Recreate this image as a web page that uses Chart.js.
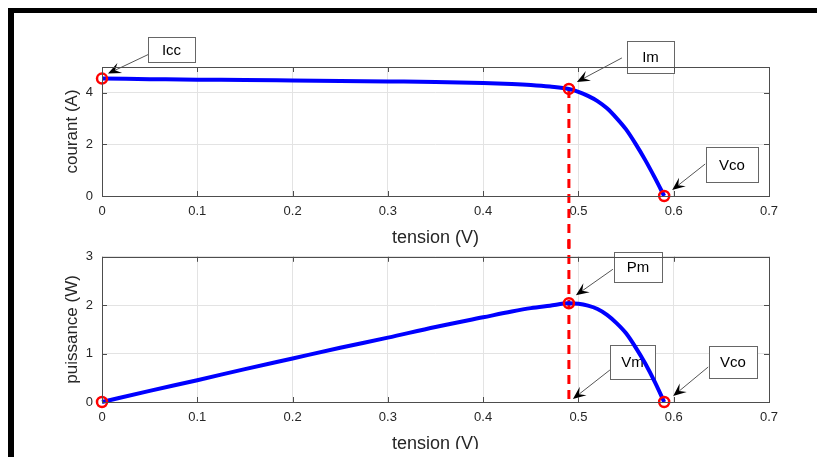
<!DOCTYPE html>
<html>
<head>
<meta charset="utf-8">
<script src="https://cdn.jsdelivr.net/npm/chart.js@4"></script>
<style>
  body { margin: 0; background: #fff; }
  #page { position: relative; width: 817px; height: 457px; overflow: hidden; background: #fff; }
  #zone { position: absolute; left: 0; top: 0; width: 817px; height: 449px; overflow: hidden; }
  #cadre { position: absolute; left: 8px; top: 8px; right: 0; bottom: -10px;
           border-left: 6px solid #000; border-top: 5px solid #000; }
  canvas { position: absolute; left: 0; }
  #haut { top: 0; }
  #bas { top: 240px; }
</style>
</head>
<body>
<div id="page">
  <div id="zone">
    <canvas id="haut" width="817" height="250"></canvas>
    <canvas id="bas" width="817" height="250"></canvas>
  </div>
  <div id="cadre"></div>
</div>
<script>
// courbes I(V) et P(V)
const tensionV   = [0, 0.05, 0.10, 0.15, 0.20, 0.25, 0.30, 0.35, 0.40, 0.43, 0.45, 0.47, 0.49, 0.50, 0.51, 0.52, 0.53, 0.54, 0.55, 0.56, 0.57, 0.58, 0.59];
const courantI   = [4.55, 4.53, 4.51, 4.50, 4.48, 4.46, 4.44, 4.42, 4.38, 4.34, 4.30, 4.24, 4.15, 4.04, 3.88, 3.68, 3.40, 3.02, 2.58, 2.02, 1.40, 0.72, 0];
const puissanceP = [0, 0.23, 0.45, 0.68, 0.90, 1.12, 1.33, 1.55, 1.75, 1.87, 1.94, 1.99, 2.04, 2.03, 1.99, 1.92, 1.80, 1.63, 1.42, 1.13, 0.80, 0.42, 0];

// points remarquables
const pointsV = [0, 0.49, 0.59];
const pointsI = [4.55, 4.15, 0];
const pointsP = [0, 2.04, 0];
const Vm = 0.49;

const xTicks = [0, 0.1, 0.2, 0.3, 0.4, 0.5, 0.6, 0.7];
const yTicksI = [0, 2, 4];
const yTicksP = [0, 1, 2, 3];

const police = "'Liberation Sans', Arial, sans-serif";

function pts(xs, ys) {
  return xs.map((x, i) => ({ x: x, y: ys[i] }));
}

// cadre, petites graduations internes, trait pointillé et étiquettes
const decor = {
  id: 'decor',
  beforeDatasetsDraw(chart, args, opts) {
    const ctx = chart.ctx;
    const sx = chart.scales.x, sy = chart.scales.y;
    ctx.save();
    // trait vertical rouge
    const xv = sx.getPixelForValue(Vm);
    const y1 = opts.ligne[0] === 'haut' ? 0 : sy.getPixelForValue(opts.ligne[0]);
    const y2 = opts.ligne[1] === 'bas' ? chart.height : sy.getPixelForValue(opts.ligne[1]);
    ctx.strokeStyle = '#ff0000';
    ctx.lineWidth = 3;
    ctx.setLineDash([9, 6]);
    ctx.beginPath();
    ctx.moveTo(xv, y1);
    ctx.lineTo(xv, y2);
    ctx.stroke();
    ctx.setLineDash([]);

    // étiquettes avec flèches
    opts.notes.forEach(n => {
      const px = sx.getPixelForValue(n.x), py = sy.getPixelForValue(n.y);
      const bx = Math.round(px + n.boite[0]), by = Math.round(py + n.boite[1]);
      ctx.fillStyle = '#fff';
      ctx.fillRect(bx, by, n.boite[2], n.boite[3]);
      ctx.strokeStyle = '#666';
      ctx.lineWidth = 1;
      ctx.strokeRect(bx + 0.5, by + 0.5, n.boite[2], n.boite[3]);
      ctx.fillStyle = '#000';
      ctx.font = '15px ' + police;
      ctx.textAlign = 'center';
      ctx.textBaseline = 'middle';
      ctx.fillText(n.texte, bx + n.boite[2] / 2, by + n.boite[3] / 2 + 1);

      const x0 = px + n.de[0], y0 = py + n.de[1];
      const xt = px + n.pointe[0], yt = py + n.pointe[1];
      const ang = Math.atan2(yt - y0, xt - x0);
      ctx.strokeStyle = '#555';
      ctx.beginPath();
      ctx.moveTo(x0, y0);
      ctx.lineTo(xt - 8 * Math.cos(ang), yt - 8 * Math.sin(ang));
      ctx.stroke();
      const L = 13, W = 5.5;
      ctx.fillStyle = '#000';
      ctx.beginPath();
      ctx.moveTo(xt, yt);
      ctx.lineTo(xt - L * Math.cos(ang) + W * Math.sin(ang), yt - L * Math.sin(ang) - W * Math.cos(ang));
      ctx.lineTo(xt - 0.6 * L * Math.cos(ang), yt - 0.6 * L * Math.sin(ang));
      ctx.lineTo(xt - L * Math.cos(ang) - W * Math.sin(ang), yt - L * Math.sin(ang) + W * Math.cos(ang));
      ctx.closePath();
      ctx.fill();
    });
    ctx.restore();
  },
  afterDraw(chart) {
    const ctx = chart.ctx;
    const a = chart.chartArea;
    const sx = chart.scales.x, sy = chart.scales.y;
    ctx.save();
    ctx.strokeStyle = '#4d4d4d';
    ctx.lineWidth = 1;
    ctx.beginPath();
    sx.ticks.forEach(t => {
      const x = Math.round(sx.getPixelForValue(t.value)) + 0.5;
      ctx.moveTo(x, a.bottom); ctx.lineTo(x, a.bottom - 5);
      ctx.moveTo(x, a.top); ctx.lineTo(x, a.top + 5);
    });
    sy.ticks.forEach(t => {
      const y = Math.round(sy.getPixelForValue(t.value)) + 0.5;
      ctx.moveTo(a.left, y); ctx.lineTo(a.left + 5, y);
      ctx.moveTo(a.right, y); ctx.lineTo(a.right - 5, y);
    });
    ctx.stroke();
    ctx.strokeRect(Math.round(a.left) + 0.5, Math.round(a.top) + 0.5, Math.round(a.right - a.left), Math.round(a.bottom - a.top));
    ctx.restore();
  }
};

function graphique(id, valeurs, marques, yMax, yTicks, titreY, notes, ligne, padTop, padBottom) {
  return new Chart(document.getElementById(id), {
    type: 'line',
    data: {
      datasets: [{
        data: pts(pointsV, marques),
        showLine: false,
        pointRadius: 5,
        pointBorderWidth: 2.5,
        pointBorderColor: '#ff0000',
        pointBackgroundColor: 'rgba(0,0,0,0)',
        clip: false
      }, {
        data: pts(tensionV, valeurs),
        borderColor: '#0000ff',
        borderWidth: 4,
        pointRadius: 0,
        cubicInterpolationMode: 'monotone',
        borderJoinStyle: 'round',
        clip: false
      }]
    },
    options: {
      responsive: false,
      animation: false,
      events: [],
      layout: { padding: { top: padTop, right: 48, left: 60, bottom: padBottom } },
      plugins: {
        legend: { display: false },
        tooltip: { enabled: false },
        decor: { notes: notes, ligne: ligne }
      },
      scales: {
        x: {
          type: 'linear',
          min: 0, max: 0.7,
          afterBuildTicks: s => { s.ticks = xTicks.map(v => ({ value: v })); },
          afterFit: s => { s.height = 54; },
          ticks: {
            padding: 8,
            color: '#262626',
            font: { family: police, size: 13 },
            callback: v => String(+v.toFixed(1))
          },
          grid: { color: '#e3e3e3', drawTicks: false },
          border: { display: false },
          title: {
            display: true,
            text: 'tension (V)',
            color: '#262626',
            font: { family: police, size: 18 },
            padding: { top: 0, bottom: 1 }
          }
        },
        y: {
          min: 0, max: yMax,
          afterBuildTicks: s => { s.ticks = yTicks.map(v => ({ value: v })); },
          afterFit: s => { s.width = 42; },
          ticks: {
            padding: 9,
            color: '#262626',
            font: { family: police, size: 13 }
          },
          grid: { color: '#e3e3e3', drawTicks: false },
          border: { display: false },
          title: {
            display: true,
            text: titreY,
            color: '#262626',
            font: { family: police, size: 17 },
            padding: { top: 2, bottom: 0 }
          }
        }
      }
    },
    plugins: [decor]
  });
}

graphique('haut', courantI, pointsI, 5, yTicksI, 'courant (A)', [
  { texte: 'Icc', x: 0, y: 4.55, boite: [46, -42, 47, 25], de: [46, -24], pointe: [6, -5] },
  { texte: 'Im', x: 0.49, y: 4.15, boite: [58, -48, 47, 32], de: [53, -31], pointe: [8, -7] },
  { texte: 'Vco', x: 0.59, y: 0, boite: [42, -49, 52, 35], de: [41, -32], pointe: [8, -6] }
], [4.15, 'bas'], 67, 0);

graphique('bas', puissanceP, pointsP, 3, yTicksP, 'puissance (W)', [
  { texte: 'Pm', x: 0.49, y: 2.04, boite: [45, -51, 48, 30], de: [44, -34], pointe: [7, -8] },
  { texte: 'Vm', x: 0.49, y: 0, boite: [41, -57, 45, 34], de: [41, -32], pointe: [4, -3] },
  { texte: 'Vco', x: 0.59, y: 0, boite: [45, -56, 48, 32], de: [44, -35], pointe: [9, -6] }
], ['haut', 0], 7, 34);
</script>
</body>
</html>
